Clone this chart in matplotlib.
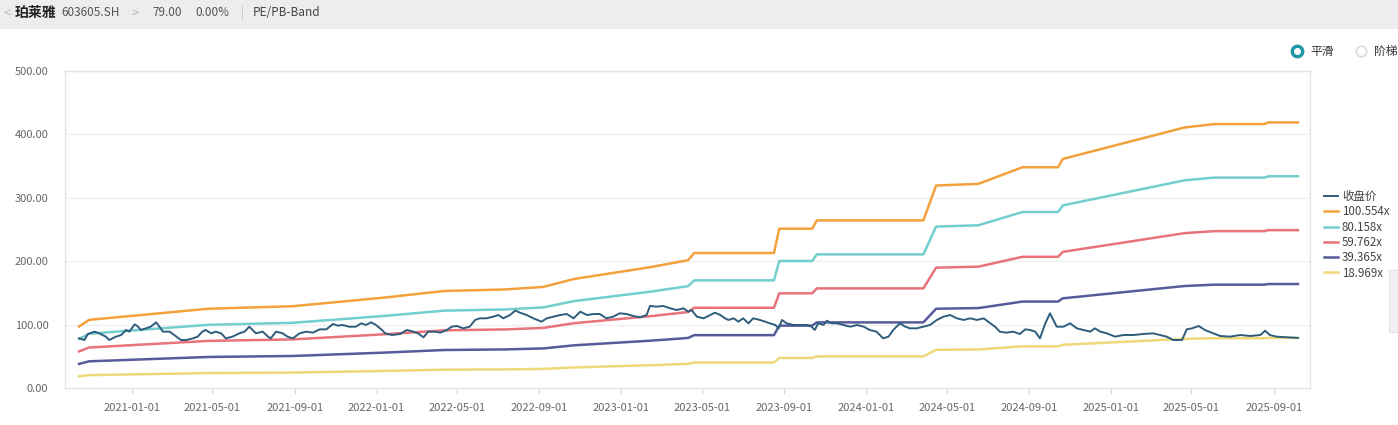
import numpy as np
import pandas as pd
import matplotlib
matplotlib.use('Agg')
import matplotlib.pyplot as plt
import matplotlib.dates as mdates
from matplotlib.patches import Rectangle
from matplotlib.lines import Line2D

plt.rcParams['font.family'] = ['Noto Sans CJK SC', 'DejaVu Sans']

# ---- data ----
base = pd.Timestamp('2021-01-01')

# closing price: day offset from 2021-01-01, price
price_day = [-79, -71, -66, -56, -49, -39, -34, -24, -16, -9,
             -4, 4, 9, 13, 21, 28, 36, 41, 46, 56,
             63, 73, 81, 91, 98, 105, 110, 118, 125, 133,
             140, 150, 160, 168, 175, 180, 185, 195, 203, 207,
             215, 225, 232, 240, 250, 260, 270, 280, 290, 300,
             307, 314, 324, 334, 342, 349, 357, 364, 372,
             378, 388, 400, 410, 420, 427, 435, 442, 452, 460,
             470, 477, 485, 494, 504, 512, 519, 529, 539, 547,
             554, 564, 572, 579, 589, 599, 611, 619, 629, 639,
             649, 659, 669, 679, 689, 698, 708, 718, 728, 738,
             748, 758, 768, 773, 783, 793, 803, 813, 823, 830, 835,
             843, 853, 863, 870, 878, 885, 890, 898, 905, 912,
             920, 927, 937, 945, 952, 960, 965, 970, 977, 987,
             997, 1007, 1014, 1019, 1024, 1032, 1037, 1044, 1052, 1062,
             1072, 1082, 1092, 1101, 1111, 1121, 1129, 1136, 1146, 1154,
             1161, 1171, 1181, 1191, 1201, 1211, 1221, 1231, 1241, 1251,
             1261, 1271, 1281, 1288, 1295,
             1305, 1315, 1325, 1333, 1340, 1348, 1355, 1363, 1370, 1375,
             1380, 1390, 1400, 1410, 1420, 1430, 1437, 1445, 1455, 1467,
             1480, 1495, 1509, 1524, 1534, 1544, 1554, 1567, 1574, 1582,
             1592, 1601, 1614, 1624, 1639, 1654, 1669, 1684, 1691, 1698,
             1708, 1723, 1740]
close = [78.3, 75.7, 85, 88.9, 86.2, 81, 75.7, 81, 83.6, 91.5,
         88.9, 100.4, 96.7, 91.5, 94.1, 96.7, 103.6, 96.7, 88.9, 88.9,
         83.6, 75.7, 75.7, 78.3, 81, 88.9, 91.5, 86.2, 88.9, 86.2,
         78.3, 81, 86.2, 88.9, 96.7, 91.5, 86.2, 88.9, 81, 78.3,
         88.9, 86.2, 81, 78.3, 86.2, 88.9, 87.3, 92.5, 92.5, 101,
         98.3, 99.4, 96.7, 96.7, 102, 99.4, 103.6, 99.4, 92.5,
         86.2, 83.6, 85.2, 91.5, 88.9, 86.2, 79.9, 88.9, 88.9, 87.3,
         91.5, 96.7, 97.8, 94.1, 96.7, 107.3, 109.9, 109.9, 112.5, 115.1,
         109.9, 115.1, 122, 118.8, 115.1, 109.9, 104.6, 109.9, 112.5, 115.1,
         116.7, 109.9, 120.4, 115.1, 116.7, 116.7, 109.9, 112.5, 117.8, 116.7,
         113.6, 111.5, 115.1, 129.4, 128.3, 129.4, 125.7, 123, 125.7, 120.4, 123,
         112.5, 109.9, 115.1, 118.8, 115.1, 109.9, 107.3, 109.9, 104.6, 109.9,
         102, 109.9, 107.3, 104.6, 102, 99.4, 94.1, 107.3, 102, 99.4,
         99.4, 99.4, 96.7, 91.5, 102, 99.4, 106.2, 102, 102, 99.4,
         96.7, 99.4, 96.7, 91.5, 88.9, 78.3, 81, 91.5, 102, 96.7,
         94.1, 94.1, 96.7, 99.4, 107.3, 112.5, 115.1, 109.9, 107.3, 109.9,
         107.3, 109.9, 102, 96.7, 88.9,
         87.3, 88.9, 85.2, 92.5, 91.5, 88.9, 78.3, 102, 117.8, 107.3,
         96.7, 96.7, 102, 94.1, 91.5, 88.9, 94.1, 88.9, 86.2, 81,
         83.6, 83.6, 85.2, 86.2, 83.6, 81, 75.7, 75.7, 92.5, 94.1,
         97.8, 91.5, 86.2, 82, 81, 83.6, 82, 83.6, 90.4, 83.6,
         81, 80, 79]

# trailing EPS behind the PE bands (smooth mode)
eps_day = [-79, -64, 114, 240, 330, 380, 466, 557, 614, 660,
           773, 830, 839, 958, 966, 1015, 1022, 1181, 1200, 1263,
           1329, 1382, 1389, 1571, 1615, 1690, 1696, 1740]
eps = [0.965, 1.069, 1.243, 1.283, 1.372, 1.422, 1.522, 1.546, 1.586, 1.711,
       1.894, 2.005, 2.118, 2.118, 2.499, 2.499, 2.629, 2.629, 3.176, 3.202,
       3.463, 3.463, 3.593, 4.087, 4.140, 4.140, 4.166, 4.166]

multiples = [100.554, 80.158, 59.762, 39.365, 18.969]
band_labels = ['100.554x', '80.158x', '59.762x', '39.365x', '18.969x']
band_colors = ['#f2a13c', '#72cfcd', '#e8737b', '#565c9a', '#efd87a']
close_color = '#2f5d7e'

# ---- figure ----
W, H = 1398, 425
fig = plt.figure(figsize=(W / 100, H / 100), dpi=100)
fig.patch.set_facecolor('white')


def fx(px):
    return px / W


def fy(py):
    return 1 - py / H


# top bar
fig.patches.append(Rectangle((0, fy(29)), 1, 29 / H, transform=fig.transFigure,
                             facecolor='#ededed', edgecolor='none', zorder=0))
fig.text(fx(4), fy(13), '<', color='#b5b5b5', fontsize=9, va='center')
fig.text(fx(15), fy(13), '珀莱雅', color='#222222', fontsize=10,
         fontweight='bold', va='center')
fig.text(fx(61), fy(13), '603605.SH', color='#555555', fontsize=8.5, va='center')
fig.text(fx(132), fy(13), '>', color='#b5b5b5', fontsize=9, va='center')
fig.text(fx(152), fy(13), '79.00', color='#555555', fontsize=8.5, va='center')
fig.text(fx(195), fy(13), '0.00%', color='#555555', fontsize=8.5, va='center')
fig.text(fx(241), fy(13), '|', color='#c0c0c0', fontsize=9, va='center')
fig.text(fx(253), fy(13), 'PE/PB-Band', color='#444444', fontsize=8.5, va='center')

# radio buttons
fig.add_artist(Line2D([fx(1297)], [fy(51)], marker='o', markersize=7.5,
                      markerfacecolor='white', markeredgecolor='#1b97a8',
                      markeredgewidth=2.4, transform=fig.transFigure))
fig.text(fx(1310), fy(51), '平滑', color='#333333', fontsize=8.5, va='center')
fig.add_artist(Line2D([fx(1361)], [fy(51)], marker='o', markersize=7.5,
                      markerfacecolor='white', markeredgecolor='#dcdcdc',
                      markeredgewidth=1.2, transform=fig.transFigure))
fig.text(fx(1374), fy(51), '阶梯', color='#333333', fontsize=8.5, va='center')

# faint scrollbar stub on the right
fig.patches.append(Rectangle((fx(1389), fy(332)), 9 / W, 62 / H,
                             transform=fig.transFigure, facecolor='#f1f1f1',
                             edgecolor='#e2e2e2', linewidth=0.8))

ax = fig.add_axes([fx(65), fy(388), (1310 - 65) / W, (388 - 71) / H])

dates = base + pd.to_timedelta(price_day, unit='D')
edates = base + pd.to_timedelta(eps_day, unit='D')

ax.plot(dates, close, color=close_color, lw=1.4, label='收盘价', zorder=5)
for k, lab, c in zip(multiples, band_labels, band_colors):
    ax.plot(edates, np.array(eps) * k, color=c, lw=1.8, label=lab, zorder=3)

ax.set_ylim(0, 500)
ax.set_xlim(base - pd.Timedelta(days=100), base + pd.Timedelta(days=1758))
ax.set_yticks([0, 100, 200, 300, 400, 500])
ax.yaxis.set_major_formatter(matplotlib.ticker.FuncFormatter(lambda v, p: '%.2f' % v))
ax.xaxis.set_major_locator(mdates.MonthLocator(bymonth=[1, 5, 9], bymonthday=1))
ax.xaxis.set_major_formatter(mdates.DateFormatter('%Y-%m-%d'))
ax.tick_params(axis='y', length=0, pad=12, labelsize=8, labelcolor='#666666')
ax.tick_params(axis='x', length=4, width=0.8, color='#d6d6d6', pad=7,
               labelsize=8, labelcolor='#666666')
ax.grid(True, axis='y', color='#efefef', lw=0.9)
ax.set_axisbelow(True)
for s in ax.spines.values():
    s.set_color('#e4e4e4')
    s.set_linewidth(1.0)

handles, labels = ax.get_legend_handles_labels()
leg = fig.legend(handles, labels, loc='upper left',
                 bbox_to_anchor=(fx(1324), fy(190)), frameon=False,
                 fontsize=8.3, handlelength=1.2, handletextpad=0.35,
                 labelspacing=0.2, borderaxespad=0, borderpad=0)
for t in leg.get_texts():
    t.set_color('#444444')

fig.savefig('out.png', dpi=100)
